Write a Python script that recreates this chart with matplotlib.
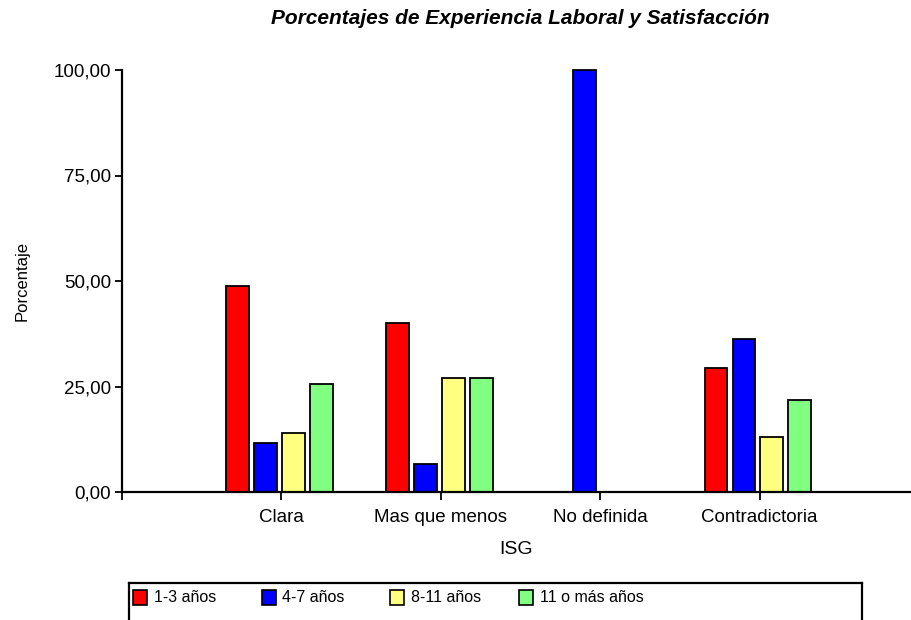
import matplotlib
matplotlib.use('Agg')
import matplotlib.pyplot as plt
import numpy as np
from matplotlib.patches import Rectangle
from matplotlib.ticker import FuncFormatter

plt.rcParams['font.family'] = ['Liberation Sans', 'DejaVu Sans']

# data
categorias = ['Clara', 'Mas que menos', 'No definida', 'Contradictoria']
series = ['1-3 años', '4-7 años', '8-11 años', '11 o más años']
valores = {
    '1-3 años':      [48.8, 40.0, 0.0, 29.3],
    '4-7 años':      [11.7, 6.7, 100.0, 36.3],
    '8-11 años':     [14.0, 27.0, 0.0, 13.0],
    '11 o más años': [25.6, 27.0, 0.0, 21.8],
}
colores = ['#FF0000', '#0000FF', '#FFFF80', '#80FF80']
yticks = [0, 25, 50, 75, 100]

W, H = 911, 620
fig = plt.figure(figsize=(W / 100, H / 100), dpi=100)
ax = fig.add_axes([122 / W, 1 - 492 / H, (W - 122) / W, (492 - 70) / H])

x = np.arange(len(categorias))
ancho = 0.144
paso = 0.1755
for i, s in enumerate(series):
    vals = np.array(valores[s])
    pos = x + (i - 1.5) * paso - 0.01
    mask = vals > 0
    ax.bar(pos[mask], vals[mask], width=ancho, color=colores[i],
           edgecolor='black', linewidth=1.3, clip_on=False, zorder=2)

ax.set_xlim(-1.0, 3.95)
ax.set_ylim(0, 100)
ax.set_xticks(x)
ax.set_xticklabels(categorias)
ax.set_xticks([-1.0], minor=True)
ax.set_yticks(yticks)
ax.yaxis.set_major_formatter(FuncFormatter(lambda v, p: f'{v:.2f}'.replace('.', ',')))

for side in ['top', 'right']:
    ax.spines[side].set_visible(False)
for side in ['left', 'bottom']:
    ax.spines[side].set_linewidth(1.6)
    ax.spines[side].set_zorder(3)

ax.tick_params(axis='x', which='major', length=6, width=1.3, pad=6, labelsize=13.5)
ax.tick_params(axis='x', which='minor', length=6, width=1.3)
ax.tick_params(axis='y', length=5, width=1.3, pad=3, labelsize=13.5)

ax.set_xlabel('ISG', fontsize=14, labelpad=11)
ax.set_ylabel('Porcentaje', fontsize=12, labelpad=17)

fig.text(520 / W, 1 - 18 / H, 'Porcentajes de Experiencia Laboral y Satisfacción',
         ha='center', va='center', fontsize=15, fontweight='bold', fontstyle='italic')

# legend box along the bottom
lax = fig.add_axes([129 / W, 0, (862 - 129) / W, (620 - 583) / H])
lax.set_xlim(0, 862 - 129)
lax.set_ylim(620, 583)
lax.set_xticks([])
lax.set_yticks([])
lax.spines['bottom'].set_visible(False)
for side in ['top', 'left', 'right']:
    lax.spines[side].set_linewidth(1.6)
for i, s in enumerate(series):
    x0 = 133 + i * 128.5 - 129
    lax.add_patch(Rectangle((x0, 590), 14, 15, facecolor=colores[i],
                            edgecolor='black', linewidth=1.2))
    lax.text(x0 + 21, 598, s, fontsize=11.5, va='center', ha='left')

fig.savefig('out.png', dpi=100)
